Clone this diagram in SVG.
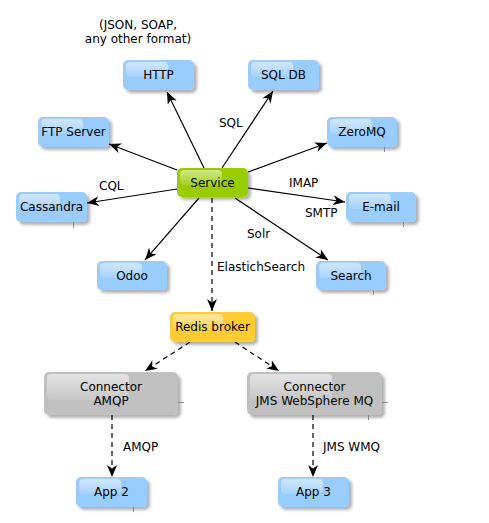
<svg xmlns="http://www.w3.org/2000/svg" width="489" height="523" viewBox="0 0 489 523">
<style>
text{font-family:"DejaVu Sans","Liberation Sans",sans-serif;font-size:12px;fill:#000}
.nt{text-anchor:middle}
.box{stroke:none}
.blue{fill:#99ccff}
.green{fill:#99cc00}
.orange{fill:#ffcc33}
.gray{fill:#c0c0c0}
.hl{fill:url(#gloss)}
.tick{stroke:#8a8a8a;stroke-width:1}
.e{stroke:#000;stroke-width:1.2;fill:none;marker-end:url(#arr)}
.d{stroke-dasharray:5,4}
</style>
<defs>
<linearGradient id="gloss" x1="0" y1="0" x2="0" y2="1">
<stop offset="0" stop-color="#fff" stop-opacity="0.55"/>
<stop offset="1" stop-color="#fff" stop-opacity="0.12"/>
</linearGradient>
<filter id="sh" x="-20%" y="-20%" width="150%" height="160%">
<feDropShadow dx="3" dy="3" stdDeviation="1.6" flood-color="#000" flood-opacity="0.3"/>
</filter>
<marker id="arr" viewBox="0 0 12 10" refX="12" refY="5" markerWidth="12" markerHeight="10" markerUnits="userSpaceOnUse" orient="auto">
<path d="M0,0 L12,5 L0,10 L3.5,5 Z" fill="#000"/>
</marker>
</defs>

<g id="labels">
<text class="nt" x="138" y="29">(JSON, SOAP,</text>
<text class="nt" x="138" y="43">any other format)</text>
</g>

<g id="connectors">
<line class="e" x1="204" y1="168" x2="167" y2="92"/>
<line class="e" x1="222" y1="168" x2="273" y2="91"/>
<line class="e" x1="177" y1="170" x2="109" y2="144"/>
<line class="e" x1="177" y1="189" x2="87" y2="203"/>
<line class="e" x1="248" y1="172" x2="327" y2="143"/>
<line class="e" x1="248" y1="188" x2="345" y2="202"/>
<line class="e" x1="199" y1="198" x2="145" y2="260"/>
<line class="e" x1="235" y1="198" x2="328" y2="260"/>
<line class="e d" x1="212" y1="198" x2="212" y2="311"/>
<line class="e d" x1="190" y1="342" x2="145" y2="371"/>
<line class="e d" x1="235" y1="342" x2="279" y2="371"/>
<line class="e d" x1="112" y1="415" x2="112" y2="477"/>
<line class="e d" x1="313" y1="415" x2="313" y2="477"/>
<text x="219" y="127">SQL</text>
<text x="99" y="190">CQL</text>
<text x="289" y="187">IMAP</text>
<text x="305" y="217">SMTP</text>
<text x="247" y="238">Solr</text>
<text x="217" y="271">ElastichSearch</text>
<text x="123" y="451">AMQP</text>
<text x="323" y="451">JMS WMQ</text>
</g>

<g id="http">
<rect class="box blue" x="123" y="60" width="71" height="30" rx="5" filter="url(#sh)"/>
<rect class="hl" x="126" y="62" width="42" height="15" rx="4"/>
<text class="nt" x="158.5" y="79">HTTP</text>
</g>
<g id="sqldb">
<rect class="box blue" x="248" y="60" width="71" height="30" rx="5" filter="url(#sh)"/>
<rect class="hl" x="251" y="62" width="42" height="15" rx="4"/>
<text class="nt" x="283.5" y="79">SQL DB</text>
</g>
<g id="ftp">
<rect class="box blue" x="38" y="117" width="71" height="30" rx="5" filter="url(#sh)"/>
<rect class="hl" x="41" y="119" width="42" height="15" rx="4"/>
<text class="nt" x="73.5" y="136">FTP Server</text>
</g>
<g id="zeromq">
<rect class="box blue" x="327" y="117" width="70" height="30" rx="5" filter="url(#sh)"/>
<rect class="hl" x="330" y="119" width="42" height="15" rx="4"/>
<line class="tick" x1="384.5" y1="147" x2="384.5" y2="152"/>
<text class="nt" x="362" y="136">ZeroMQ</text>
</g>
<g id="service">
<rect class="box green" x="177" y="168" width="71" height="29" rx="5" filter="url(#sh)"/>
<rect class="hl" x="180" y="170" width="42" height="15" rx="4"/>
<text class="nt" x="212.5" y="187">Service</text>
</g>
<g id="cassandra">
<rect class="box blue" x="16" y="192" width="71" height="30" rx="5" filter="url(#sh)"/>
<rect class="hl" x="19" y="194" width="41" height="15" rx="4"/>
<line class="tick" x1="73.5" y1="222" x2="73.5" y2="228"/>
<text class="nt" x="51.5" y="211">Cassandra</text>
</g>
<g id="email">
<rect class="box blue" x="346" y="192" width="70" height="30" rx="5" filter="url(#sh)"/>
<rect class="hl" x="349" y="194" width="42" height="15" rx="4"/>
<line class="tick" x1="403.5" y1="222" x2="403.5" y2="227"/>
<text class="nt" x="381" y="211">E-mail</text>
</g>
<g id="odoo">
<rect class="box blue" x="97" y="261" width="70" height="29" rx="5" filter="url(#sh)"/>
<rect class="hl" x="100" y="263" width="42" height="15" rx="4"/>
<text class="nt" x="132" y="280">Odoo</text>
</g>
<g id="search">
<rect class="box blue" x="316" y="261" width="70" height="29" rx="5" filter="url(#sh)"/>
<rect class="hl" x="319" y="263" width="42" height="15" rx="4"/>
<line class="tick" x1="373.5" y1="290" x2="373.5" y2="295"/>
<text class="nt" x="351" y="280">Search</text>
</g>
<g id="redis">
<rect class="box orange" x="170" y="312" width="85" height="30" rx="5" filter="url(#sh)"/>
<rect class="hl" x="173" y="314" width="50" height="16" rx="4"/>
<text class="nt" x="212.5" y="331">Redis broker</text>
</g>
<g id="connector-amqp">
<rect class="box gray" x="44" y="372" width="134" height="43" rx="5" filter="url(#sh)"/>
<rect class="hl" x="47" y="374" width="82" height="26" rx="4"/>
<line class="tick" x1="178" y1="402.5" x2="184" y2="402.5"/>
<text class="nt" x="111" y="391">Connector</text>
<text class="nt" x="111" y="405">AMQP</text>
</g>
<g id="connector-jms">
<rect class="box gray" x="247" y="372" width="135" height="43" rx="5" filter="url(#sh)"/>
<rect class="hl" x="250" y="374" width="82" height="26" rx="4"/>
<line class="tick" x1="382" y1="402.5" x2="388" y2="402.5"/>
<line class="tick" x1="368.5" y1="415" x2="368.5" y2="420"/>
<text class="nt" x="314.5" y="391">Connector</text>
<text class="nt" x="314.5" y="405">JMS WebSphere MQ</text>
</g>
<g id="app2">
<rect class="box blue" x="76" y="477" width="71" height="30" rx="5" filter="url(#sh)"/>
<rect class="hl" x="79" y="479" width="42" height="15" rx="4"/>
<line class="tick" x1="133.5" y1="507" x2="133.5" y2="512"/>
<text class="nt" x="111.5" y="496">App 2</text>
</g>
<g id="app3">
<rect class="box blue" x="278" y="477" width="71" height="30" rx="5" filter="url(#sh)"/>
<rect class="hl" x="281" y="479" width="42" height="15" rx="4"/>
<text class="nt" x="313.5" y="496">App 3</text>
</g>
</svg>
